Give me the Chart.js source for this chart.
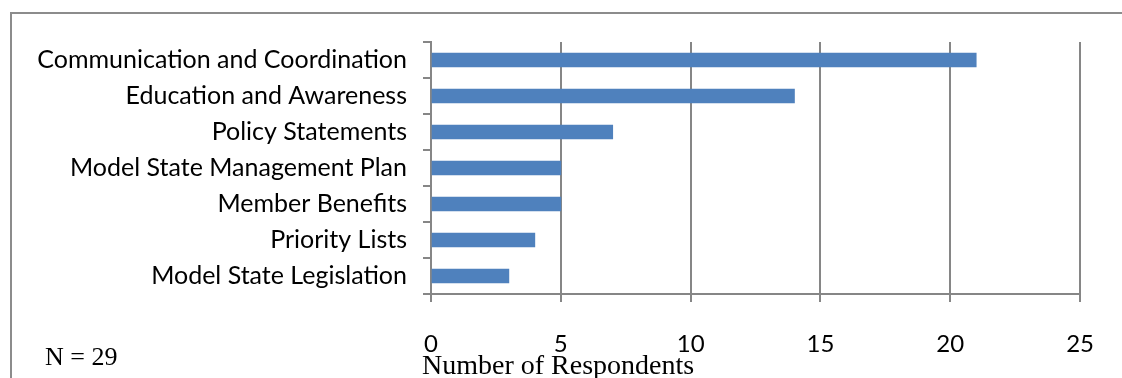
<!DOCTYPE html>
<html>
<head>
<meta charset="utf-8">
<script src="https://cdn.jsdelivr.net/npm/chart.js@4/dist/chart.umd.min.js"></script>
<style>
  html, body { margin: 0; padding: 0; background: #fff; }
  #wrap { position: relative; width: 1122px; height: 378px; overflow: hidden; }
  #frame { position: absolute; left: 10px; top: 12px; width: 1130px; height: 400px;
           border-left: 2px solid #8c8c8c; border-top: 2px solid #8c8c8c; }
  #chart { position: absolute; left: 0; top: 0; }
  .note { position: absolute; font-family: 'Liberation Serif', serif; color: #000; white-space: nowrap; }
  #n-label { left: 45px; top: 342px; font-size: 26px; }
  #x-title { left: 422px; top: 349px; font-size: 28px; }
</style>
</head>
<body>
<div id="wrap">
  <div id="frame"></div>
  <canvas id="chart" width="1122" height="378"></canvas>
  <div class="note" id="n-label">N = 29</div>
  <div class="note" id="x-title">Number of Respondents</div>
</div>
<script>
const categories = [
    'Communication and Coordination',
    'Education and Awareness',
    'Policy Statements',
    'Model State Management Plan',
    'Member Benefits',
    'Priority Lists',
    'Model State Legislation'
];
const respondents = [21, 14, 7, 5, 5, 4, 3];
const xTicks = [0, 5, 10, 15, 20, 25];

const axisGray = '#868686';
const ctx = document.getElementById('chart').getContext('2d');

const chart = new Chart(ctx, {
    type: 'bar',
    data: {
        labels: categories,
        datasets: [{
            data: respondents,
            backgroundColor: '#4f81bd',
            barThickness: 14
        }]
    },
    options: {
        indexAxis: 'y',
        responsive: false,
        animation: false,
        layout: { padding: { top: 42, right: 31, left: 0, bottom: 0 } },
        plugins: {
            legend: { display: false },
            tooltip: { enabled: false }
        },
        scales: {
            x: {
                min: xTicks[0],
                max: xTicks[xTicks.length - 1],
                afterBuildTicks: (scale) => { scale.ticks = xTicks.map(v => ({ value: v })); },
                afterFit: (scale) => { scale.height = 84; },
                grid: { color: axisGray, lineWidth: 2, tickLength: 8 },
                border: { color: axisGray, width: 2 },
                ticks: {
                    color: '#000',
                    padding: 28,
                    font: { family: 'Lato', size: 24 }
                }
            },
            y: {
                afterFit: (scale) => { scale.width = 431; },
                grid: { drawOnChartArea: false, color: axisGray, lineWidth: 2, tickLength: 8, offset: true },
                border: { color: axisGray, width: 2 },
                ticks: {
                    color: '#000',
                    padding: 16,
                    font: { family: 'Lato', size: 25 }
                }
            }
        }
    }
});
</script>
</body>
</html>
